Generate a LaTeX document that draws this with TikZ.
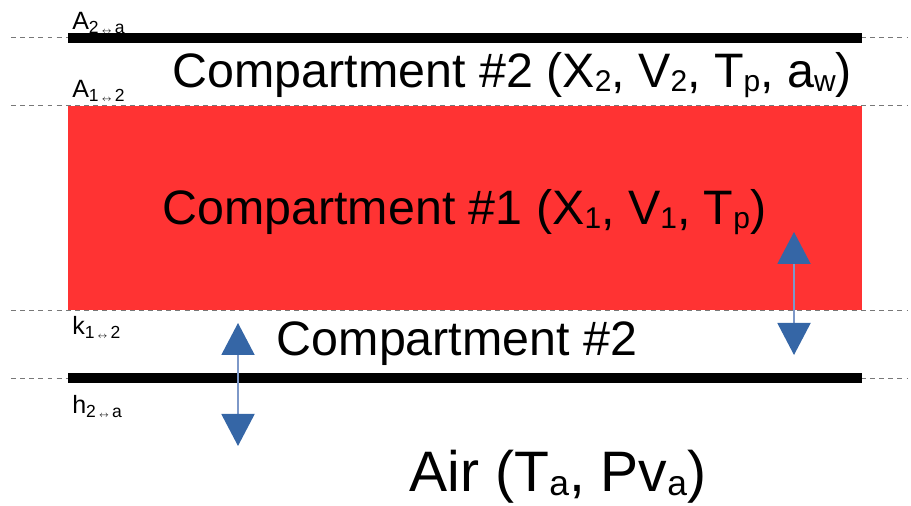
\documentclass[tikz,border=0pt]{standalone}
\usepackage{fontspec}
\setmainfont{Liberation Sans}
\usepackage{graphicx}
\usetikzlibrary{arrows.meta,positioning}
\usepackage{xcolor}

\definecolor{layerRed}{RGB}{255,51,51}
\definecolor{tipBlue}{RGB}{53,102,166}
\definecolor{shaftBlue}{RGB}{125,152,200}
\definecolor{guideGray}{RGB}{120,120,120}

\newcommand{\low}[1]{\raisebox{-0.07em}{\scalebox{0.62}{#1}}}
\newcommand{\between}[2]{\textsubscript{#1\,$\scriptscriptstyle\leftrightarrow$\,#2}}

\begin{document}
\begin{tikzpicture}[
  bigText/.style={font=\fontsize{34.4}{40}\selectfont, inner sep=0pt, anchor=base},
  airText/.style={font=\fontsize{40.6}{48}\selectfont, inner sep=0pt, anchor=base},
  sideLabel/.style={font=\fontsize{17.8}{21}\selectfont, inner sep=0pt, anchor=base west},
  guide/.style={draw=guideGray, line width=0.7pt, dash pattern=on 3.5pt off 3pt},
  wall/.style={line width=7.8pt, black},
  exchange/.style={{Triangle[width=0.825cm, length=0.8cm, color=tipBlue]}-{Triangle[width=0.825cm, length=0.8cm, color=tipBlue]}, draw=shaftBlue, line width=1.4pt},
]
\useasboundingbox (0,0) rectangle (22.775,12.65);

% --- guide lines ---
\draw[guide] (0.275,11.7) -- (22.7,11.7);
\draw[guide] (0.275,10.0) -- (22.7,10.0);
\draw[guide] (0.275,4.9) -- (22.7,4.9);
\draw[guide] (0.275,3.2) -- (22.7,3.2);

% --- layers ---
\fill[layerRed] (1.7,4.9) rectangle (21.55,10.0);
\draw[wall] (1.7,11.7) -- (21.55,11.7);
\draw[wall] (1.7,3.2) -- (21.55,3.2);

% --- side labels ---
\node[sideLabel] (areaOuter) at (1.8,11.9) {A\between{2}{a}};
\node[sideLabel] (areaInner) at (1.8,10.2) {A\between{1}{2}};
\node[sideLabel] (kInner) at (1.8,4.275) {k\between{1}{2}};
\node[sideLabel] (hOuter) at (1.8,2.3) {h\between{2}{a}};

% --- compartment texts ---
\node[bigText] (compTwoTop) at (12.81,10.45) {Compartment \#2 (X\low{2}, V\low{2}, T\low{p}, a\low{w})};
\node[bigText] (compOne) at (11.61,7.025) {Compartment \#1 (X\low{1}, V\low{1}, T\low{p})};
\node[bigText] (compTwoLow) at (11.425,3.75) {Compartment \#2};
\node[airText] (air) at (13.95,0.35) {Air (T\low{a}, Pv\low{a})};

% --- exchange arrows ---
\coordinate (outerTop) at (5.95,4.575);
\coordinate (outerBot) at (5.95,1.5);
\coordinate (innerTop) at (19.85,6.85);
\coordinate (innerBot) at (19.85,3.775);
\draw[exchange] (outerTop) -- (outerBot);
\draw[exchange] (innerTop) -- (innerBot);

\end{tikzpicture}
\end{document}
